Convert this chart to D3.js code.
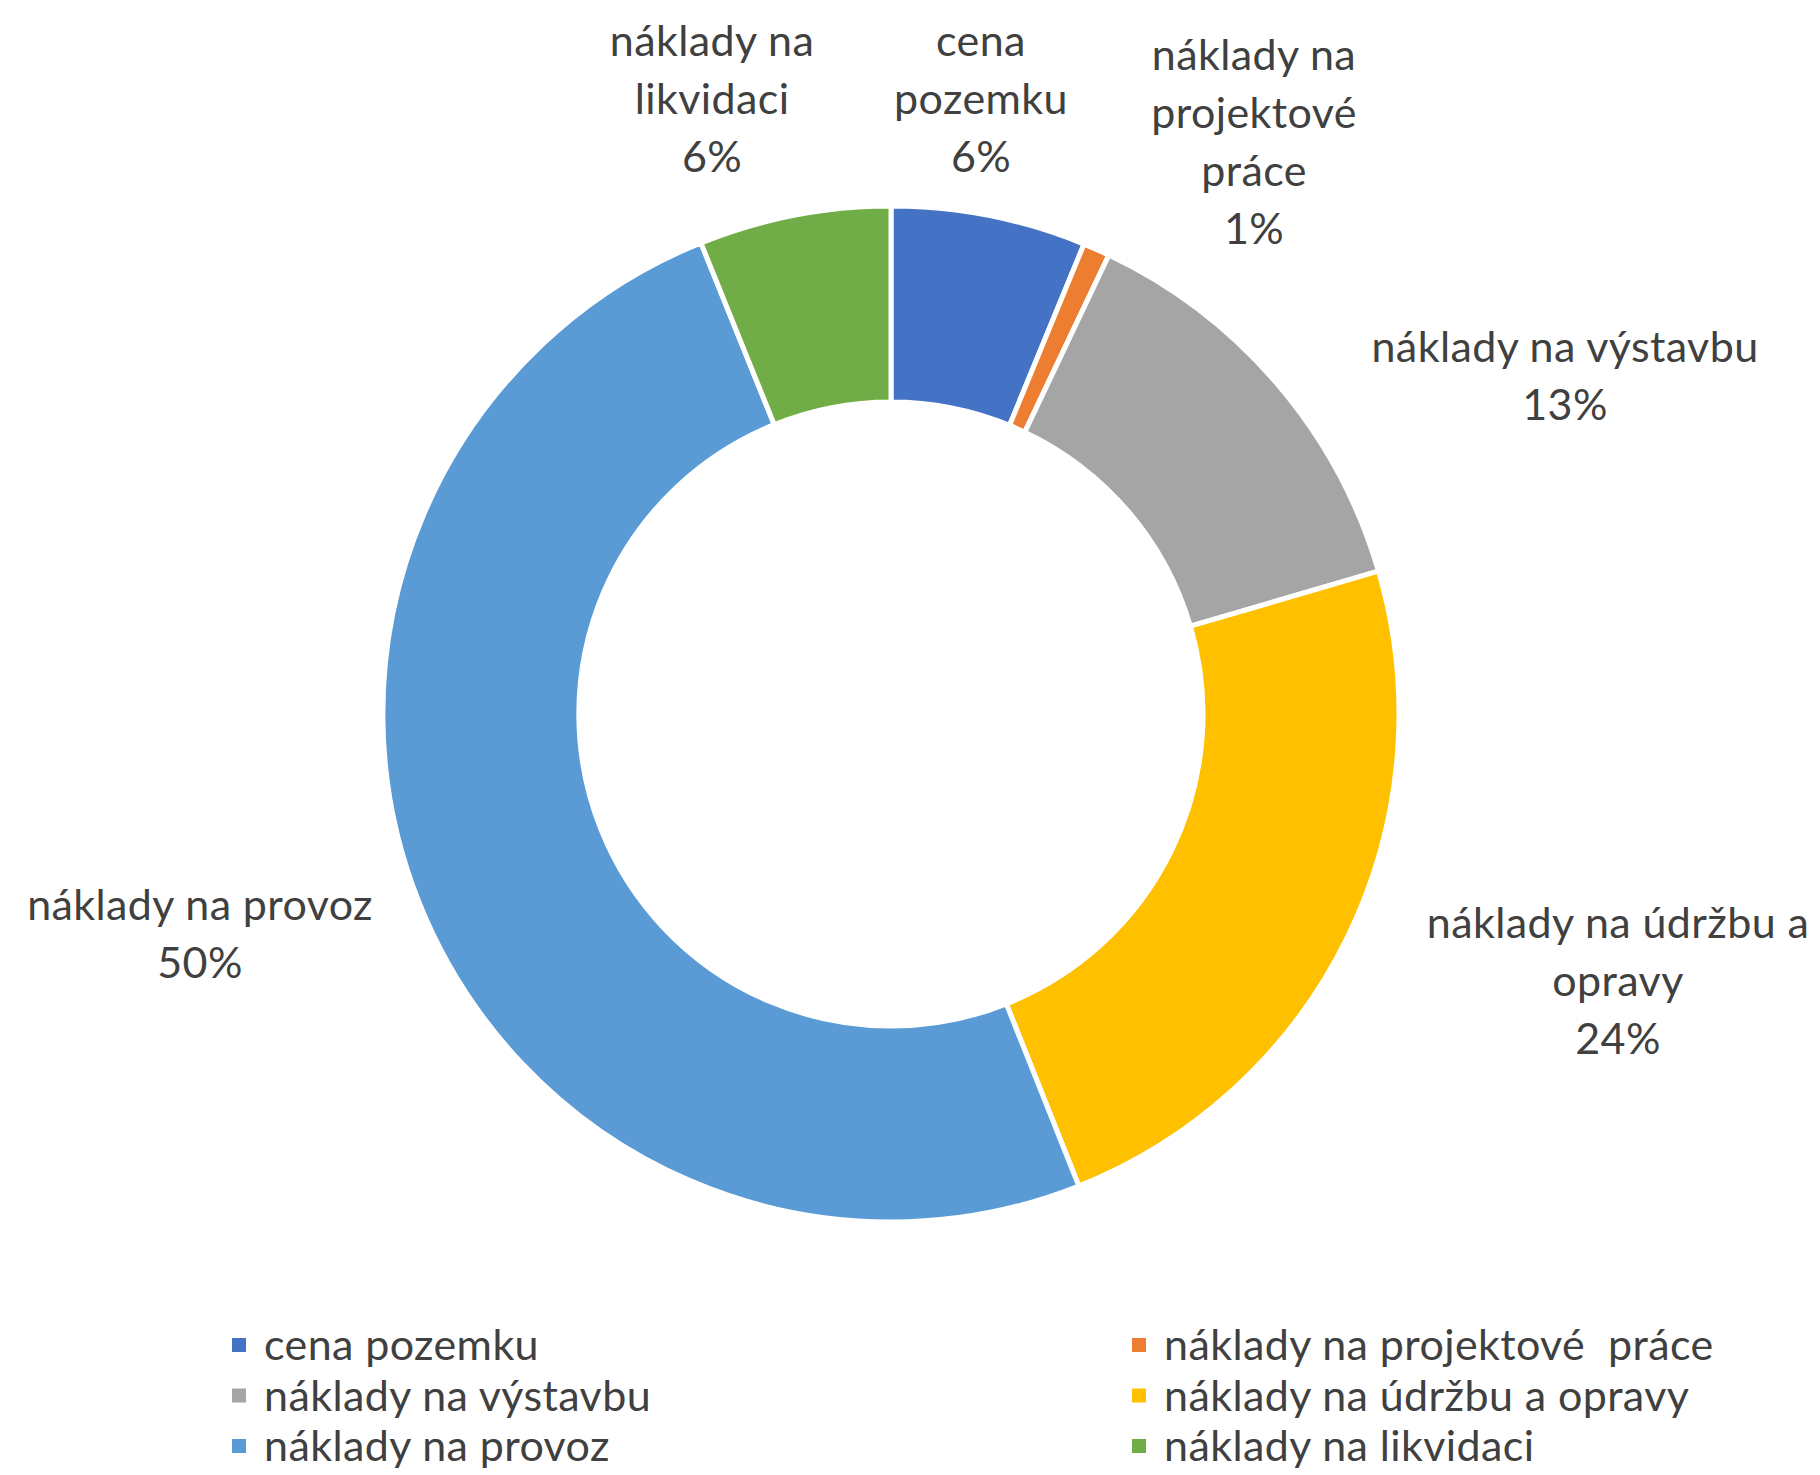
<!DOCTYPE html>
<html>
<head>
<meta charset="utf-8">
<script src="https://cdn.jsdelivr.net/npm/d3@7"></script>
<style>
  body { margin: 0; background: #fff; }
  text { font-family: Lato, "Open Sans", sans-serif; fill: #404040; white-space: pre; letter-spacing: 0.4px; }
</style>
</head>
<body>
<div id="chart-area"></div>
<script>
// data (shares of total cost, %)
var categories = ['cena pozemku', 'náklady na projektové  práce', 'náklady na výstavbu',
  'náklady na údržbu a opravy', 'náklady na provoz', 'náklady na likvidaci'];
var shares = [6.2, 0.85, 13.4, 23.5, 49.9, 6.1];
var colors = ['#4472C4', '#ED7D31', '#A5A5A5', '#FFC000', '#5B9BD5', '#70AD47'];
// how the data labels wrap in the chart
var labelLines = [
  ['cena', 'pozemku'],
  ['náklady na', 'projektové', 'práce'],
  ['náklady na výstavbu'],
  ['náklady na údržbu a', 'opravy'],
  ['náklady na provoz'],
  ['náklady na', 'likvidaci']
];

var width = 1820, height = 1475,
  cx = 891, cy = 714,
  outerR = 508, innerR = 312,
  fontSize = 43, lineH = 58;

// label block centres, relative to the donut centre (layout only)
var labelSpots = [
  { x: 90, y: -615 },
  { x: 363, y: -572 },
  { x: 674, y: -338 },
  { x: 727, y: 267 },
  { x: -691, y: 220 },
  { x: -179, y: -615 }
];

var svg = d3.select('#chart-area')
  .append('svg')
    .attr('width', width)
    .attr('height', height);

svg.append('rect')
  .attr('width', width)
  .attr('height', height)
  .attr('fill', '#fff');

var g = svg.append('g')
  .attr('transform', 'translate(' + cx + ',' + cy + ')');

var pie = d3.pie()
  .sort(null)
  .value(d => d);

var arc = d3.arc()
  .innerRadius(innerR)
  .outerRadius(outerR);

var total = d3.sum(shares);
var arcs = pie(shares);

g.selectAll('path.slice')
  .data(arcs)
  .enter()
  .append('path')
    .attr('class', 'slice')
    .attr('d', arc)
    .attr('fill', (d, i) => colors[i])
    .attr('stroke', '#fff')
    .attr('stroke-width', 5)
    .attr('stroke-linejoin', 'miter');

// data labels: category name + percentage
var labels = g.selectAll('text.label')
  .data(arcs)
  .enter()
  .append('text')
    .attr('class', 'label')
    .attr('text-anchor', 'middle')
    .attr('font-size', fontSize);

labels.each(function(d, i) {
  var lines = labelLines[i].concat([Math.round(d.value / total * 100) + '%']);
  var top = labelSpots[i].y - (lines.length - 1) * lineH / 2;
  d3.select(this).selectAll('tspan')
    .data(lines)
    .enter()
    .append('tspan')
      .attr('x', labelSpots[i].x)
      .attr('y', (l, j) => top + j * lineH)
      .attr('dy', '0.35em')
      .text(l => l);
});

// legend, two columns
var legendCol = d3.scalePoint().domain([0, 1]).range([232, 1132]);
var legendRow = d3.scalePoint().domain([0, 1, 2]).range([1345, 1446]);

var legend = svg.selectAll('g.legend')
  .data(categories)
  .enter()
  .append('g')
    .attr('class', 'legend')
    .attr('transform', (c, i) => 'translate(' + legendCol(i % 2) + ',' + legendRow(Math.floor(i / 2)) + ')');

legend.append('rect')
  .attr('x', 0)
  .attr('y', -7)
  .attr('width', 14)
  .attr('height', 14)
  .attr('fill', (c, i) => colors[i]);

legend.append('text')
  .attr('x', 32)
  .attr('dy', '0.35em')
  .attr('font-size', fontSize)
  .text(c => c);
</script>
</body>
</html>
